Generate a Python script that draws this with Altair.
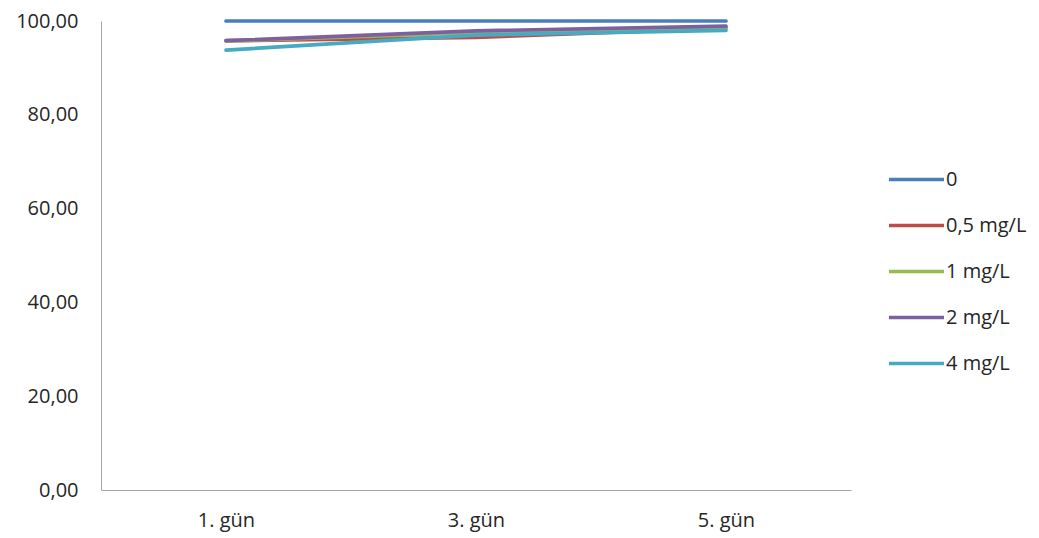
import altair as alt
import pandas as pd

days = ["1. gün", "3. gün", "5. gün"]
series = ["0", "0,5 mg/L", "1 mg/L", "2 mg/L", "4 mg/L"]
v0 = [100.0, 100.0, 100.0]
v05 = [95.8, 96.5, 98.5]
v1 = [95.7, 97.5, 98.6]
v2 = [95.8, 97.9, 98.9]
v4 = [93.8, 97.0, 98.0]
colors = ["#4A7EBB", "#BE4B48", "#98B954", "#7D60A0", "#46AAC5"]

rows = []
for s, vals in zip(series, [v0, v05, v1, v2, v4]):
    for d, v in zip(days, vals):
        rows.append({"gun": d, "seri": s, "deger": v})
df = pd.DataFrame(rows)

font = "Open Sans"
fs = 20

chart = alt.Chart(df).mark_line(strokeWidth=3.7, strokeCap="round").encode(
    x=alt.X("gun:N", sort=days, title=None,
            scale=alt.Scale(type="point", padding=0.5),
            axis=alt.Axis(labelAngle=0, ticks=False, domainColor="#A6A6A6",
                          labelPadding=20, labelFontSize=fs, labelColor="#262626",
                          labelFont=font, grid=False)),
    y=alt.Y("deger:Q", title=None, scale=alt.Scale(domain=[0, 100], nice=False),
            axis=alt.Axis(values=[0, 20, 40, 60, 80, 100], ticks=False, grid=False,
                          domainColor="#A6A6A6", labelPadding=23, labelFontSize=fs,
                          labelColor="#262626", labelFont=font,
                          labelExpr="replace(format(datum.value, '.2f'), '.', ',')")),
    color=alt.Color("seri:N", sort=series, title=None,
                    scale=alt.Scale(domain=series, range=colors),
                    legend=alt.Legend(orient="none", legendX=786, legendY=129,
                                      symbolType="stroke", symbolSize=3025,
                                      symbolStrokeWidth=3.7, labelFontSize=fs,
                                      labelFont=font, labelColor="#262626",
                                      rowPadding=6, labelOffset=0, padding=0)),
    order=alt.Order("seri:N", sort="ascending"),
).properties(
    width=750, height=469,
    padding={"left": 93, "top": 13, "right": 180, "bottom": 48},
    autosize=alt.AutoSizeParams(type="none"),
).configure_view(stroke=None)

chart.save("out.html", embed_options={"renderer": "svg", "actions": False})
